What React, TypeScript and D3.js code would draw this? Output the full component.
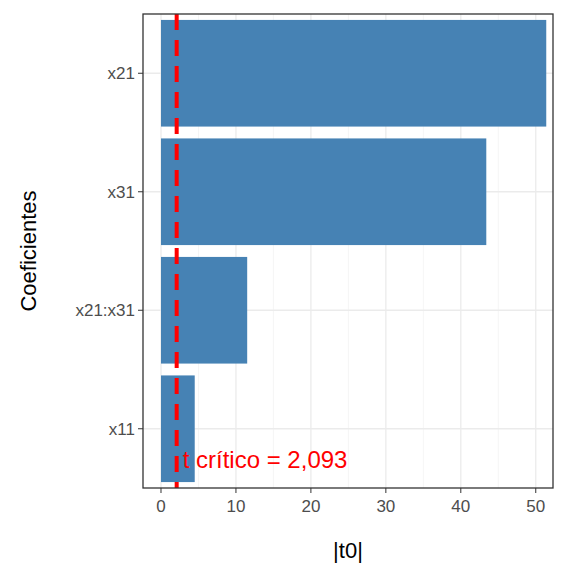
import React from 'react';
import * as d3 from 'd3';

const coefs = ['x21', 'x31', 'x21:x31', 'x11'];
const t0 = [51.4, 43.4, 11.5, 4.5];
const tCrit = 2.093;
const xTicks = [0, 10, 20, 30, 40, 50];
const xMinor = [5, 15, 25, 35, 45];

const App: React.FC = () => {
  const W = 576, H = 576;
  const m = { left: 143, right: 553, top: 14, bottom: 488 };
  const x = d3.scaleLinear().domain([-2.4, 52.3]).range([m.left, m.right]);
  const y = d3.scaleBand().domain(coefs).range([m.top, m.bottom]).padding(0.1).paddingOuter(0.05);
  const font = 'Liberation Sans, Arial, sans-serif';

  return (
    <svg width={W} height={H} style={{ position: 'absolute', left: 0, top: 0, fontFamily: font }}>
      <rect width={W} height={H} fill="white" />
      {xMinor.map((v) => (
        <line key={'m' + v} x1={x(v)} x2={x(v)} y1={m.top} y2={m.bottom} stroke="#f2f2f2" strokeWidth={0.8} />
      ))}
      {xTicks.map((v) => (
        <line key={'g' + v} x1={x(v)} x2={x(v)} y1={m.top} y2={m.bottom} stroke="#ebebeb" strokeWidth={1.3} />
      ))}
      {coefs.map((c) => (
        <line key={'h' + c} x1={m.left} x2={m.right} y1={y(c)! + y.bandwidth() / 2} y2={y(c)! + y.bandwidth() / 2} stroke="#ebebeb" strokeWidth={1.3} />
      ))}
      {coefs.map((c, i) => (
        <rect key={c} x={x(0)} width={x(t0[i]) - x(0)} y={y(c)} height={y.bandwidth()} fill="#4682b4" />
      ))}
      <line x1={x(tCrit)} x2={x(tCrit)} y1={m.top} y2={m.bottom} stroke="red" strokeWidth={4} strokeDasharray="16,10" />
      <text x={x(tCrit) + 6} y={468} fill="red" fontSize={24}>t crítico = 2,093</text>
      <rect x={m.left} y={m.top} width={m.right - m.left} height={m.bottom - m.top} fill="none" stroke="#333" strokeWidth={1.3} />
      {xTicks.map((v) => (
        <g key={'t' + v}>
          <line x1={x(v)} x2={x(v)} y1={m.bottom} y2={m.bottom + 5} stroke="#333" />
          <text x={x(v)} y={m.bottom + 24} textAnchor="middle" fontSize={17} fill="#4d4d4d">{v}</text>
        </g>
      ))}
      {coefs.map((c) => {
        const cy = y(c)! + y.bandwidth() / 2;
        return (
          <g key={'y' + c}>
            <line x1={m.left - 5} x2={m.left} y1={cy} y2={cy} stroke="#333" />
            <text x={m.left - 8} y={cy + 6} textAnchor="end" fontSize={17} fill="#4d4d4d">{c}</text>
          </g>
        );
      })}
      <text x={(m.left + m.right) / 2} y={558} textAnchor="middle" fontSize={22}>|t0|</text>
      <text transform={`translate(36,${(m.top + m.bottom) / 2}) rotate(-90)`} textAnchor="middle" fontSize={22}>Coeficientes</text>
    </svg>
  );
};

export default App;
